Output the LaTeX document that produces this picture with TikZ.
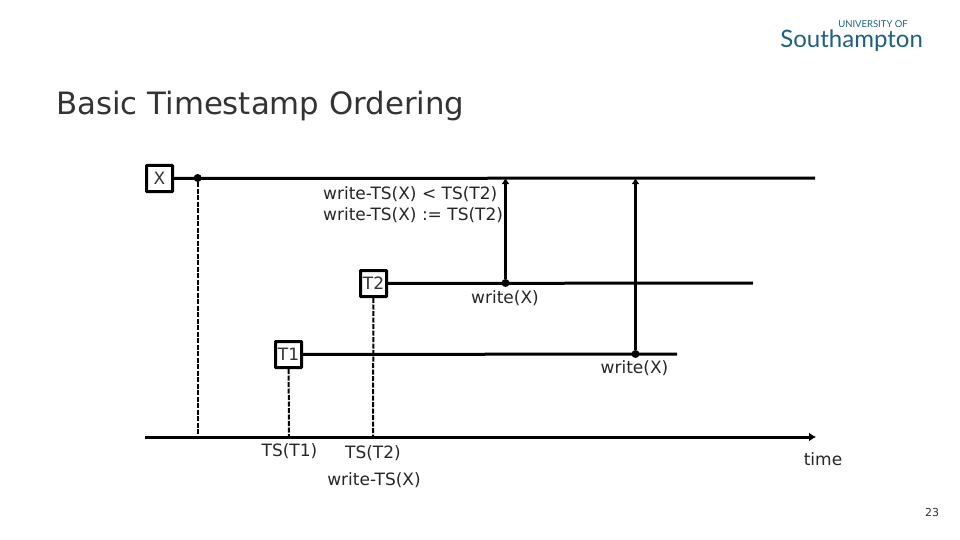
\documentclass[tikz,border=0pt]{standalone}
\usepackage{fontspec}
\setmainfont{DejaVu Sans}
\newfontfamily\logofont{Lato}
\usepackage{xcolor}
\usetikzlibrary{arrows.meta}
\definecolor{logoteal}{HTML}{1F5F7F}
\definecolor{inktext}{HTML}{333333}
\tikzset{
  boxnode/.style={draw=black,line width=3pt,rounded corners=0.5pt,minimum size=26pt,inner sep=0pt,text=inktext,font=\fontsize{17}{17}\selectfont},
  txtnode/.style={text=black!85,inner sep=0pt,font=\fontsize{17}{17}\selectfont},
  mainline/.style={line width=3pt},
  dashline/.style={line width=2pt,dash pattern=on 5pt off 1.5pt},
  upline/.style={line width=3pt,-{Latex[length=6pt,width=8pt]}},
  dotnode/.style={circle,fill=black,inner sep=0pt,minimum size=8pt}
}
\begin{document}
\begin{tikzpicture}[x=1pt,y=-1pt]
      \useasboundingbox (0,0) rectangle (960,540);

      % Boites
      \node[boxnode] (X) at (159.5,178.5) {X};
      \node[boxnode] (T2) at (373.5,283.5) {T2};
      \node[boxnode] (T1) at (288.5,354.5) {T1};

      % Points
      \node[dotnode] (Xdot) at (197.7,178) {};
      \node[dotnode] (T2dot) at (505.5,283) {};
      \node[dotnode] (T1dot) at (635.5,354) {};

      \coordinate (Xend) at (815,178);
      \coordinate (T2end) at (753,283);
      \coordinate (T1end) at (677,354);
      \coordinate (Tstart) at (145,437);
      \coordinate (Tend) at (816,437);
      \coordinate (Xa) at (197.7,437);
      \coordinate (Ta) at (289,437);
      \coordinate (Tb) at (373,437);
      \coordinate (XT2) at (505.5,178);
      \coordinate (XT1) at (635.5,178);

      \draw[mainline] (X) -- (Xend);
      \draw[mainline] (T2) -- (T2end);
      \draw[mainline] (T1) -- (T1end);
      \draw[mainline,-{Latex[length=7pt,width=9pt]}] (Tstart) -- (Tend);

      \draw[dashline] (Xdot) -- (Xa);
      \draw[dashline] (T1) -- (Ta);
      \draw[dashline] (T2) -- (Tb);

      \draw[upline] (T2dot) -- (XT2);
      \draw[upline] (T1dot) -- (XT1);

      % Textes
      \node[text=inktext,anchor=west,inner sep=0pt,font=\fontsize{30.8}{30.8}\selectfont] (title) at (56,106) {Basic Timestamp Ordering};
      \node[txtnode,anchor=west] (cmp) at (323,194) {write-TS(X) < TS(T2)};
      \node[txtnode,anchor=west] (set) at (323,215) {write-TS(X) := TS(T2)};
      \node[txtnode] (w2) at (505,298) {write(X)};
      \node[txtnode] (w1) at (634.5,368.5) {write(X)};
      \node[txtnode] (ts1) at (289.5,451.5) {TS(T1)};
      \node[txtnode] (ts2) at (373,453) {TS(T2)};
      \node[txtnode] (wts) at (374,480) {write-TS(X)};
      \node[txtnode] (time) at (823,459) {time};
      \node[inner sep=0pt,text=inktext,font=\fontsize{11}{11}\selectfont] (page) at (932,512) {23};

      % Logo
      \node[inner sep=0pt,text=logoteal,anchor=base east,font=\logofont\fontsize{9.5}{9.5}\selectfont] (univ) at (908,28) {UNIVERSITY OF};
      \node[inner sep=0pt,text=logoteal,anchor=base east,font=\logofont\fontsize{24}{24}\selectfont] (soton) at (923,48) {Southampton};
\end{tikzpicture}
\end{document}
